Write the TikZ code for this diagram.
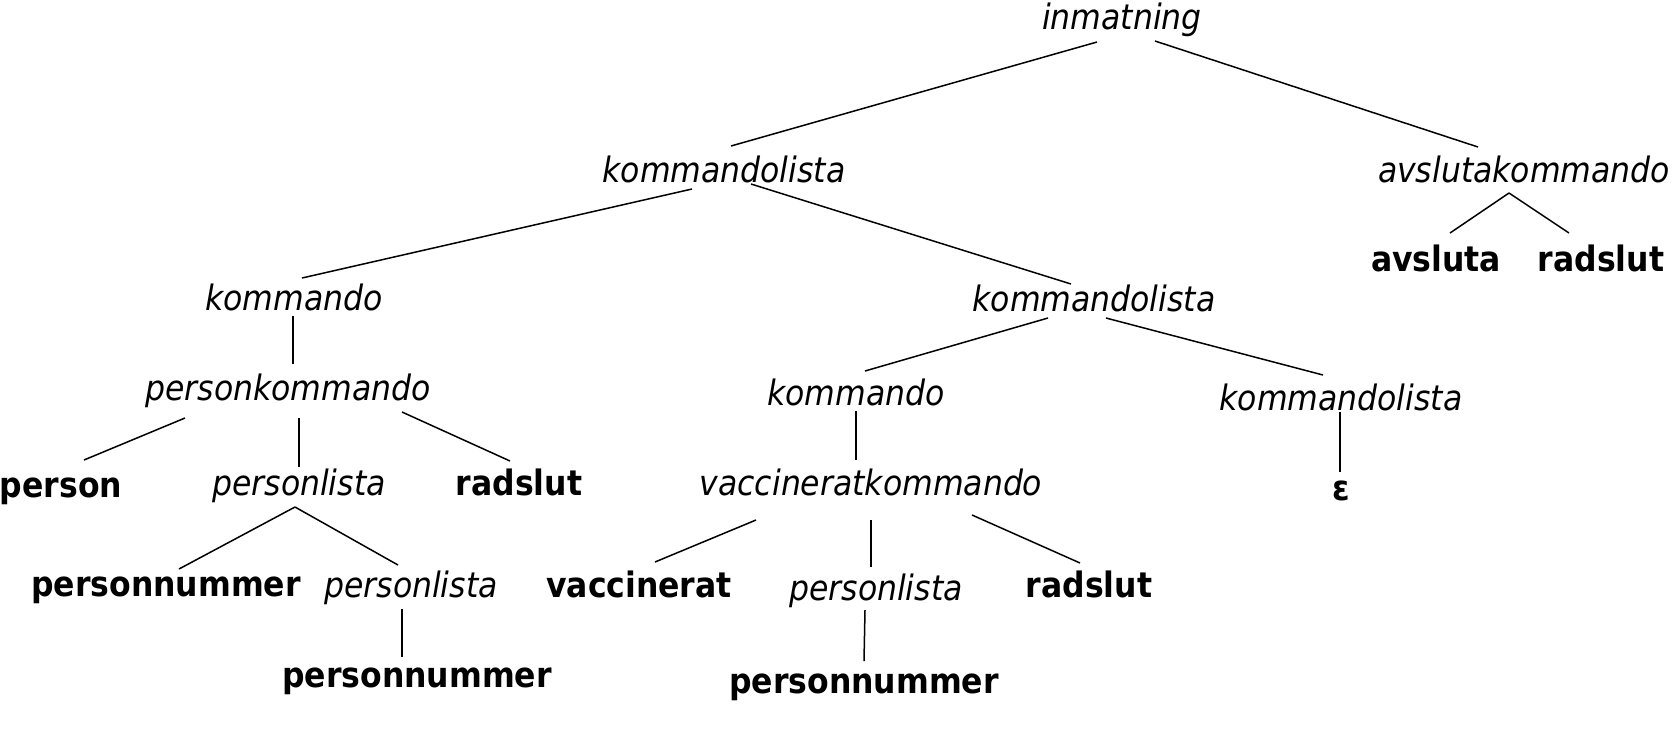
\documentclass[tikz,border=0pt]{standalone}
\usepackage{fontspec}
\setmainfont{DejaVu Sans Condensed}
\usetikzlibrary{calc}
\begin{document}
\begin{tikzpicture}[x=0.5pt,y=-0.5pt,
  nt/.style={inner sep=0pt,font=\fontsize{17.5}{20}\selectfont\itshape},
  tm/.style={inner sep=0pt,font=\fontsize{17.5}{20}\selectfont\bfseries},
  edge/.style={line width=0.75pt}]
\useasboundingbox (0,0) rectangle (1675,741);
\node[nt] (inm) at (1122,20) {inmatning};
\node[nt] (kl1) at (724,169) {kommandolista};
\node[nt] (avk) at (1524,169) {avslutakommando};
\node[tm] (avs) at (1436,258) {avsluta};
\node[tm] (rsa) at (1601,258) {radslut};
\node[nt] (kom1) at (294,297) {kommando};
\node[nt] (kl2) at (1094,298) {kommandolista};
\node[nt] (pk) at (288,391) {personkommando};
\node[nt] (kom2) at (856,392) {kommando};
\node[nt] (kl3) at (1341,397) {kommandolista};
\node[tm] (per) at (61,491) {person};
\node[nt] (pl1) at (299,486) {personlista};
\node[tm] (rs1) at (519,482) {radslut};
\node[nt] (vk) at (871,482) {vaccineratkommando};
\node[tm] (eps) at (1341,491) {ε};
\node[tm] (pn1) at (166,590) {personnummer};
\node[nt] (pl2) at (411,588) {personlista};
\node[tm] (vac) at (639,584) {vaccinerat};
\node[nt] (pl3) at (876,591) {personlista};
\node[tm] (rs2) at (1089,584) {radslut};
\node[tm] (pn2) at (417,681) {personnummer};
\node[tm] (pn3) at (864,687) {personnummer};
\begin{scope}[edge]
\draw ($(inm)+(-25,22)$) -- ($(kl1)+(7,-23)$);
\draw ($(inm)+(33,21)$) -- ($(avk)+(-46,-22)$);
\draw ($(kl1)+(-32,20)$) -- ($(kom1)+(8,-19)$);
\draw ($(kl1)+(27,15)$) -- ($(kl2)+(-23,-14)$);
\draw ($(avk)+(-15,24)$) -- ($(avs)+(14,-25)$);
\draw ($(avk)+(-15,24)$) -- ($(rsa)+(-32,-25)$);
\draw ($(kom1)+(-1,19)$) -- ($(pk)+(5,-27)$);
\draw ($(pk)+(-103,27)$) -- ($(per)+(23,-31)$);
\draw ($(pk)+(11,27)$) -- ($(pl1)+(0,-19)$);
\draw ($(pk)+(114,21)$) -- ($(rs1)+(-9,-21)$);
\draw ($(kl2)+(-46,20)$) -- ($(kom2)+(9,-21)$);
\draw ($(kl2)+(12,20)$) -- ($(kl3)+(-18,-22)$);
\draw ($(kom2)+(0,19)$) -- ($(vk)+(-15,-22)$);
\draw ($(kl3)+(-1,15)$) -- ($(eps)+(-1,-19)$);
\draw ($(pl1)+(-4,21)$) -- ($(pn1)+(13,-21)$);
\draw ($(pl1)+(-4,21)$) -- ($(pl2)+(-13,-23)$);
\draw ($(vk)+(-115,38)$) -- ($(vac)+(16,-22)$);
\draw ($(vk)+(0,38)$) -- ($(pl3)+(-5,-24)$);
\draw ($(vk)+(101,33)$) -- ($(rs2)+(-9,-21)$);
\draw ($(pl2)+(-9,21)$) -- ($(pn2)+(-15,-24)$);
\draw ($(pl3)+(-11,19)$) -- ($(pn3)+(0,-26)$);
\end{scope}
\end{tikzpicture}
\end{document}
